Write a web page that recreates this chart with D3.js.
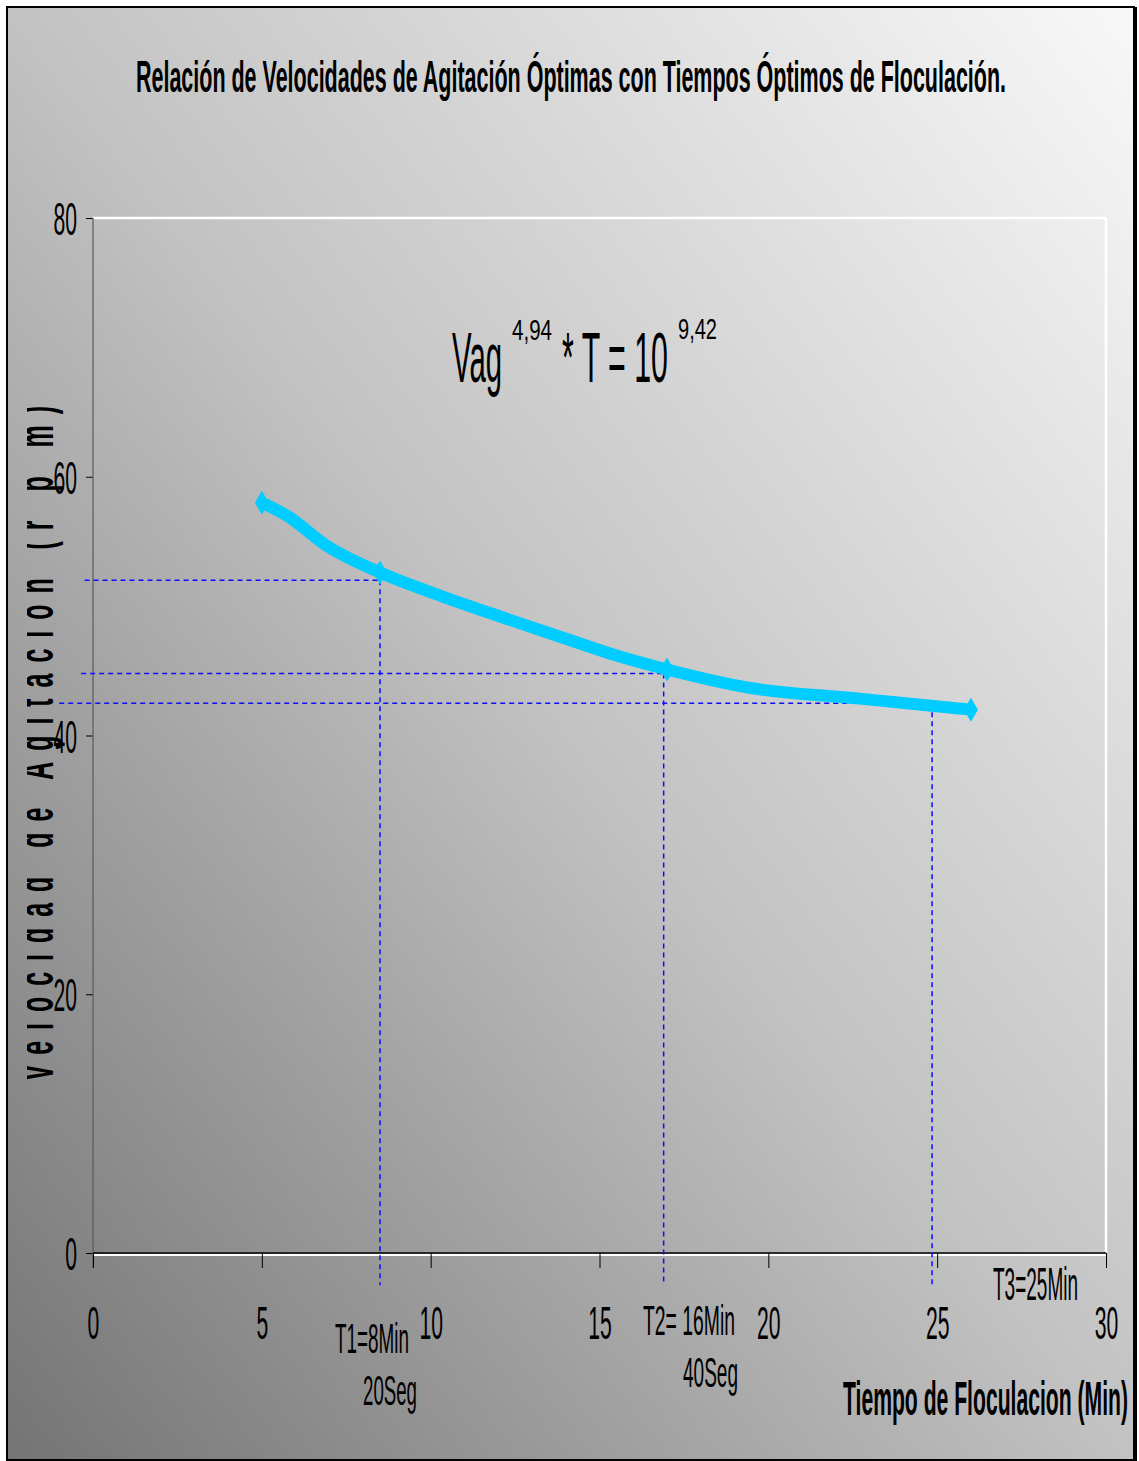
<!DOCTYPE html>
<html>
<head>
<meta charset="utf-8">
<script src="https://cdn.jsdelivr.net/npm/d3@7/dist/d3.min.js"></script>
<style>
  html, body { margin: 0; padding: 0; background: #ffffff; }
  svg { display: block; }
  text { font-family: "Liberation Sans", Arial, sans-serif; fill: #000; }
</style>
</head>
<body>
<svg id="chart" width="1139" height="1461"></svg>
<script>
// Flocculation time (min) vs. optimal stirring speed (rpm)
const curveT = [5, 5.8, 6.9, 8.5, 10.3, 12.05, 13.98, 15.6, 17.0, 19.4, 22.7, 26.0];
const curveV = [58.0, 56.9, 54.7, 52.6, 50.8, 49.2, 47.5, 46.1, 45.1, 43.7, 42.85, 42.0];

// Highlighted points on the curve
const markerT = [5, 8.5, 17.0, 26.0];
const markerV = [58.0, 52.6, 45.1, 42.0];

// Dashed guides for T1, T2, T3
const guideT = [8.5, 16.9, 24.85];
const guideV = [52.0, 44.8, 42.5];
const guideStart = [-0.25, -0.35, -1.0];
const guideBottom = -2.5;

// Axis ticks
const xTicks = [0, 5, 10, 15, 20, 25, 30];
const yTicks = [0, 20, 40, 60, 80];

const svg = d3.select("#chart");
const W = 1139, H = 1461;

const x = d3.scaleLinear().domain([0, 30]).range([93, 1106]);
const y = d3.scaleLinear().domain([0, 80]).range([1253, 218]);

// Background gradient
const defs = svg.append("defs");
const grad = defs.append("linearGradient")
  .attr("id", "bg").attr("x1", 0).attr("y1", 1).attr("x2", 1).attr("y2", 0);
grad.append("stop").attr("offset", "0%").attr("stop-color", "#747474");
grad.append("stop").attr("offset", "50%").attr("stop-color", "#c2c2c2");
grad.append("stop").attr("offset", "100%").attr("stop-color", "#f8f8f8");

svg.append("rect").attr("x", 0).attr("y", 0).attr("width", W).attr("height", H).attr("fill", "#fff");
svg.append("rect").attr("x", 7).attr("y", 7).attr("width", 1127).attr("height", 1453)
  .attr("fill", "url(#bg)").attr("stroke", "#000").attr("stroke-width", 2);
// right-hand shadow edge
svg.append("rect").attr("x", 1133).attr("y", 7).attr("width", 4).attr("height", 1454).attr("fill", "#000");

// helper for condensed text
function label(parent, str, px, py, size, width, opts = {}) {
  return parent.append("text")
    .attr("x", px).attr("y", py)
    .attr("font-size", size)
    .attr("font-weight", opts.bold ? "bold" : "normal")
    .attr("textLength", width)
    .attr("lengthAdjust", "spacingAndGlyphs")
    .text(str);
}

// Plot frame lines
svg.append("line").attr("x1", x(0)).attr("x2", x(30)).attr("y1", y(80)).attr("y2", y(80))
  .attr("stroke", "#fff").attr("stroke-width", 2.5);
svg.append("line").attr("x1", x(30)).attr("x2", x(30)).attr("y1", y(80)).attr("y2", y(0))
  .attr("stroke", "#fff").attr("stroke-width", 2.5);
svg.append("line").attr("x1", x(0)).attr("x2", x(30)).attr("y1", y(0) + 2).attr("y2", y(0) + 2)
  .attr("stroke", "#fff").attr("stroke-width", 2);

// Y axis
const yAxis = svg.append("g").attr("transform", `translate(${x(0)},0)`)
  .call(d3.axisLeft(y).tickValues(yTicks).tickSize(7).tickFormat(d3.format("d")));
yAxis.select(".domain").remove();
yAxis.selectAll(".tick line").attr("stroke", "#000").attr("stroke-width", 1);
yAxis.selectAll(".tick text")
  .attr("font-family", "Liberation Sans, Arial, sans-serif")
  .attr("font-size", 46).attr("fill", "#000")
  .attr("transform", "scale(0.46,1)")
  .attr("x", -16 / 0.46).attr("dy", "0.36em");
svg.append("line").attr("x1", x(0)).attr("x2", x(0)).attr("y1", y(80)).attr("y2", y(0) + 15)
  .attr("stroke", "#5a5a5a").attr("stroke-width", 1.2);

// X axis
const xAxis = svg.append("g").attr("transform", `translate(0,${y(0)})`)
  .call(d3.axisBottom(x).tickValues(xTicks).tickSize(15).tickFormat(d3.format("d")));
xAxis.select(".domain").remove();
xAxis.selectAll(".tick line").attr("stroke", "#000").attr("stroke-width", 1);
xAxis.selectAll(".tick text")
  .attr("font-family", "Liberation Sans, Arial, sans-serif")
  .attr("font-size", 46).attr("fill", "#000")
  .attr("transform", "scale(0.46,1)")
  .attr("y", 86).attr("dy", 0);
svg.append("line").attr("x1", x(0)).attr("x2", x(30)).attr("y1", y(0)).attr("y2", y(0))
  .attr("stroke", "#000").attr("stroke-width", 1.5);

// Dashed guides
const guides = svg.append("g").attr("stroke", "#0c0cff").attr("stroke-width", 1.5)
  .attr("stroke-dasharray", "5,4").attr("fill", "none");
guideT.forEach((t, i) => {
  guides.append("line").attr("x1", x(guideStart[i])).attr("x2", x(t))
    .attr("y1", y(guideV[i])).attr("y2", y(guideV[i]));
  guides.append("line").attr("x1", x(t)).attr("x2", x(t))
    .attr("y1", y(guideV[i])).attr("y2", y(guideBottom));
});

// Curve
const pts = curveT.map((t, i) => [t, curveV[i]]);
svg.append("path").datum(pts)
  .attr("d", d3.line().x(d => x(d[0])).y(d => y(d[1])).curve(d3.curveMonotoneX))
  .attr("fill", "none").attr("stroke", "#00ccff").attr("stroke-width", 12)
  .attr("stroke-linejoin", "miter");

// Diamond markers
const diamond = "M0,-12 L7,0 L0,12 L-7,0 Z";
svg.append("g").selectAll("path").data(markerT).join("path")
  .attr("d", diamond)
  .attr("transform", (t, i) => `translate(${x(t)},${y(markerV[i])})`)
  .attr("fill", "#00ccff");

// Title
label(svg, "Relación de Velocidades de Agitación Óptimas con Tiempos Óptimos de Floculación.",
  136, 92, 44, 870, { bold: true });

// Equation
label(svg, "Vag", 452, 382, 70, 50);
label(svg, "4,94", 512, 340, 30, 40);
label(svg, "* T = 10", 562, 382, 70, 106);
label(svg, "9,42", 678, 339, 30, 39);

// Time annotations
label(svg, "T1=8Min", 335, 1353, 43, 74);
label(svg, "20Seg", 363, 1405, 43, 54);
label(svg, "T2= 16Min", 643, 1335, 43, 92);
label(svg, "40Seg", 683, 1387, 43, 55);
label(svg, "T3=25Min", 993, 1300, 46, 85);

// X axis title
label(svg, "Tiempo de Floculacion (Min)", 843, 1415, 48, 285, { bold: true });

// Y axis title (rotated, widely spaced, clipped on its upper side)
defs.append("clipPath").attr("id", "yclip")
  .append("rect").attr("x", 27).attr("y", 300).attr("width", 40).attr("height", 900);
const yt = svg.append("g").attr("clip-path", "url(#yclip)");
yt.append("text")
  .attr("transform", "translate(53,1081) rotate(-90)")
  .attr("font-size", 50)
  .attr("font-weight", "bold")
  .attr("textLength", 686)
  .attr("lengthAdjust", "spacingAndGlyphs")
  .attr("letter-spacing", 22)
  .text("Velocidad de Agitación (r p m)");
</script>
</body>
</html>
